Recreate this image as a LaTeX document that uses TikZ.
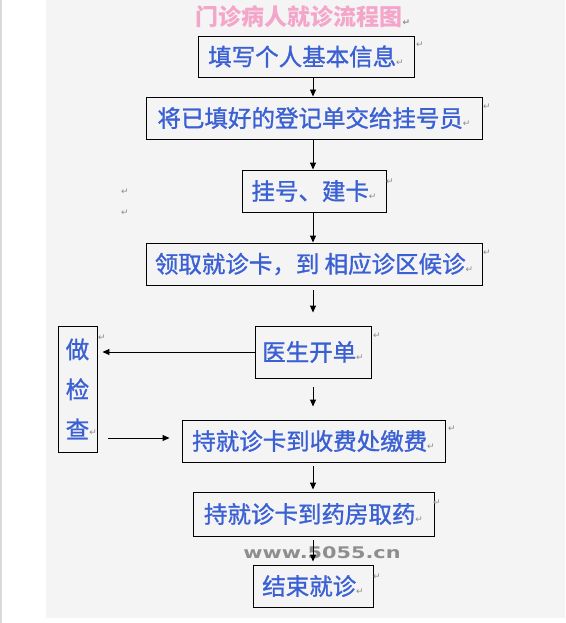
\documentclass[tikz,border=0pt]{standalone}
\usepackage{fontspec}
\setmainfont{Noto Sans CJK SC}
\newfontfamily\cjkb{Noto Sans CJK SC}[FakeBold=1.2]
\newfontfamily\dv{DejaVu Sans}
\usetikzlibrary{arrows.meta}
\definecolor{bg}{HTML}{F4F4F4}
\definecolor{edge}{HTML}{DADADA}
\definecolor{txt}{HTML}{3A60D4}
\definecolor{ttl}{HTML}{F4A6CA}
\definecolor{rm}{HTML}{8C8C8C}
\definecolor{wm}{HTML}{8E8E8E}
\newcommand{\rt}{{\dv\fontsize{9}{9}\selectfont\color{rm}↵}}
\tikzset{
  box/.style={draw=black, line width=0.9pt, inner sep=0pt, text=txt,
              font=\cjkb\fontsize{23.5}{27}\selectfont},
  arr/.style={line width=0.9pt, -{Triangle[width=6pt,length=7pt]}},
  retmark/.style={inner sep=0pt, font=\dv\fontsize{9}{9}\selectfont, text=rm},
}
\begin{document}
\begin{tikzpicture}[x=1pt,y=-1pt]
\useasboundingbox (0,0) rectangle (565,623);
\fill[white] (0,0) rectangle (565,623);
\fill[bg] (46,0) rectangle (565,618);
\fill[edge] (0,0) rectangle (1.5,623);

\node[inner sep=0pt, text=ttl, font=\bfseries\fontsize{23}{26}\selectfont] (title) at (303,17) {门诊病人就诊流程图\rt};

\node[box, minimum width=216pt, minimum height=41pt] (b1) at (306,56.5) {填写个人基本信息\rt};
\node[box, minimum width=336pt, minimum height=42pt] (b2) at (314,118) {将已填好的登记单交给挂号员\rt};
\node[box, minimum width=144pt, minimum height=42pt] (b3) at (314,191) {挂号、建卡\rt};
\node[box, minimum width=336pt, minimum height=42pt] (b4) at (314,264) {领取就诊卡，到 相应诊区候诊\rt};
\node[box, minimum width=116pt, minimum height=52pt] (b5) at (313,352) {医生开单\rt};
\node[box, minimum width=39pt, minimum height=126pt, align=center,
      font=\cjkb\fontsize{23.5}{40}\selectfont] (b6) at (77.5,389) {\raisebox{-3pt}{做}\\\raisebox{-3pt}{检}\\\raisebox{-3pt}{查}\rlap{\rt}};
\node[box, minimum width=263pt, minimum height=42pt] (b7) at (313.5,441) {持就诊卡到收费处缴费\rt};
\node[box, minimum width=241pt, minimum height=44pt] (b8) at (313.5,514) {持就诊卡到药房取药\rt};
\node[box, minimum width=120pt, minimum height=42pt] (b9) at (313,586) {结束就诊\rt};

\node[text=wm, font=\dv\bfseries\fontsize{16}{16}\selectfont, xscale=1.3, inner sep=0pt] (wmk) at (322,553) {www.5055.cn};

\node[retmark] (m1) at (420,45) {↵};
\node[retmark] (m2) at (487,107) {↵};
\node[retmark] (m3) at (390,182) {↵};
\node[retmark] (m4) at (487,253) {↵};
\node[retmark] (m5) at (377,336) {↵};
\node[retmark] (m6) at (102,338) {↵};
\node[retmark] (m7) at (452,429) {↵};
\node[retmark] (m8) at (437,503) {↵};
\node[retmark] (m9) at (377,577) {↵};
\node[retmark] (m10) at (125,192) {↵};
\node[retmark] (m11) at (125,213) {↵};

\coordinate (ax) at (313,0);
\draw[arr] (b1.south -| ax) -- (b2.north -| ax);
\draw[arr] (b2.south -| ax) -- (b3.north -| ax);
\draw[arr] (b3.south -| ax) -- (b4.north -| ax);
\draw[arr, shorten <=5pt, shorten >=13pt] (b4.south -| ax) -- (b5.north -| ax);
\draw[arr, shorten >=5pt] (b5.west) -- (b6.east |- b5.west);
\draw[arr, shorten <=9pt, shorten >=13pt] (b5.south -| ax) -- (b7.north -| ax);
\coordinate (c6) at (97,438);
\draw[arr, shorten <=11pt, shorten >=12pt] (c6) -- (b7.west |- c6);
\draw[arr, shorten <=4pt, shorten >=2pt] (b7.south -| ax) -- (b8.north -| ax);
\draw[arr, shorten <=4pt, shorten >=3pt] (b8.south -| ax) -- (b9.north -| ax);
\end{tikzpicture}
\end{document}
